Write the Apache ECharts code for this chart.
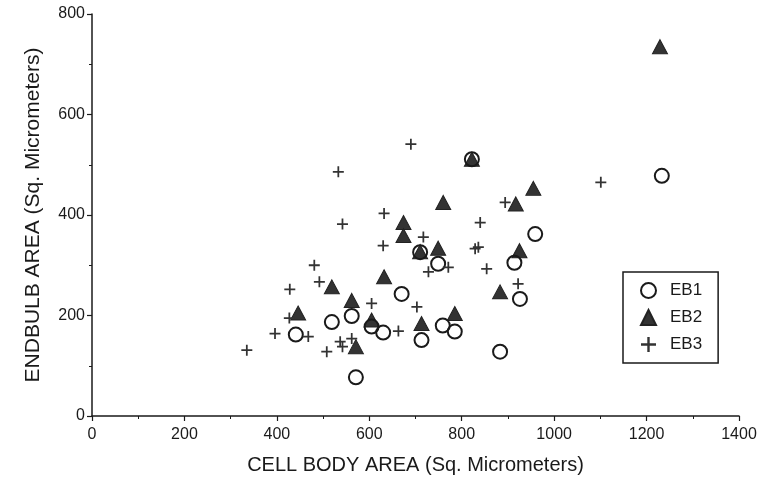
<!DOCTYPE html>
<html lang="en">
<head>
<meta charset="UTF-8">
<title>Endbulb vs cell body area</title>
<script src="https://cdn.jsdelivr.net/npm/echarts@6/dist/echarts.min.js"></script>
<style>
  html, body { margin: 0; padding: 0; background: #fff; }
</style>
</head>
<body>
<div id="main" style="width: 765px;height: 480px"></div>
<script>
  // [cell body area, endbulb area]
  const eb1 = [
    [441, 162], [519, 187], [562, 199], [605, 178], [630, 166], [670, 243],
    [571, 77], [713, 151], [710, 326], [749, 303], [759, 180], [785, 168],
    [883, 128], [914, 305], [926, 233], [959, 362], [822, 511], [1233, 478]
  ];
  const eb2 = [
    [446, 205], [519, 257], [562, 230], [571, 138], [605, 191], [632, 277],
    [674, 385], [674, 359], [710, 327], [713, 184], [749, 334], [760, 425],
    [785, 204], [822, 511], [883, 247], [917, 422], [925, 329], [955, 453],
    [1229, 735]
  ];
  const eb3 = [
    [335, 131], [396, 164], [427, 195], [428, 252], [468, 158], [492, 267],
    [481, 300], [508, 128], [537, 148], [542, 138], [562, 154], [533, 486],
    [542, 382], [605, 224], [630, 339], [632, 403], [663, 169], [703, 217],
    [690, 541], [717, 356], [728, 287], [771, 296], [836, 336], [829, 333],
    [840, 385], [854, 293], [894, 425], [922, 263], [1101, 465]
  ];
  const seriesNames = ['EB1', 'EB2', 'EB3'];

  const ink = '#1a1a1a';
  const plus = 'path://M4.2,0h1.6v4.2h4.2v1.6h-4.2v4.2h-1.6v-4.2h-4.2v-1.6h4.2z';
  const font = 'Liberation Sans';

  var chart = echarts.init(document.getElementById('main'));
  var option = {
    animation: false,
    textStyle: { fontFamily: font, color: ink },
    grid: { left: 92, right: 26, top: 14, bottom: 62 },
    legend: {
      orient: 'vertical',
      left: 623,
      top: 272,
      width: 94,
      padding: [10, 16, 10, 17],
      itemGap: 10,
      itemWidth: 15,
      itemHeight: 15,
      borderColor: ink,
      borderWidth: 1.5,
      textStyle: { fontFamily: font, fontSize: 17, color: ink, padding: [0, 0, 0, 9] },
      data: seriesNames
    },
    xAxis: {
      type: 'value',
      min: 0, max: 1400, interval: 200,
      name: 'CELL BODY AREA (Sq. Micrometers)',
      nameLocation: 'middle',
      nameGap: 39,
      nameTextStyle: { fontFamily: font, fontSize: 20, color: ink },
      axisLine: { show: true, lineStyle: { color: ink, width: 1.5 } },
      axisTick: { show: true, length: 5, lineStyle: { color: ink, width: 1.2 } },
      minorTick: { show: true, splitNumber: 2, length: 3, lineStyle: { color: ink } },
      axisLabel: { fontFamily: font, fontSize: 16, color: ink, margin: 11, formatter: v => String(v) },
      splitLine: { show: false }
    },
    yAxis: {
      type: 'value',
      min: 0, max: 800, interval: 200,
      name: 'ENDBULB AREA (Sq. Micrometers)',
      nameLocation: 'middle',
      nameGap: 48,
      nameTextStyle: { fontFamily: font, fontSize: 21, color: ink },
      axisLine: { show: true, lineStyle: { color: ink, width: 1.5 } },
      axisTick: { show: true, length: 5, lineStyle: { color: ink, width: 1.2 } },
      minorTick: { show: true, splitNumber: 2, length: 3, lineStyle: { color: ink } },
      axisLabel: { fontFamily: font, fontSize: 16, color: ink, margin: 7, formatter: v => String(v) },
      splitLine: { show: false }
    },
    series: [
      {
        name: 'EB2', type: 'scatter', data: eb2,
        symbol: 'triangle', symbolSize: [15, 14],
        itemStyle: { color: '#333', borderColor: '#222', borderWidth: 1, opacity: 1 }
      },
      {
        name: 'EB1', type: 'scatter', data: eb1,
        symbol: 'circle', symbolSize: 14,
        itemStyle: { color: 'rgba(0,0,0,0)', borderColor: ink, borderWidth: 2, opacity: 1 }
      },
      {
        name: 'EB3', type: 'scatter', data: eb3,
        symbol: plus, symbolSize: 11,
        itemStyle: { color: '#333', opacity: 1 }
      }
    ]
  };
  chart.setOption(option);
</script>
</body>
</html>
